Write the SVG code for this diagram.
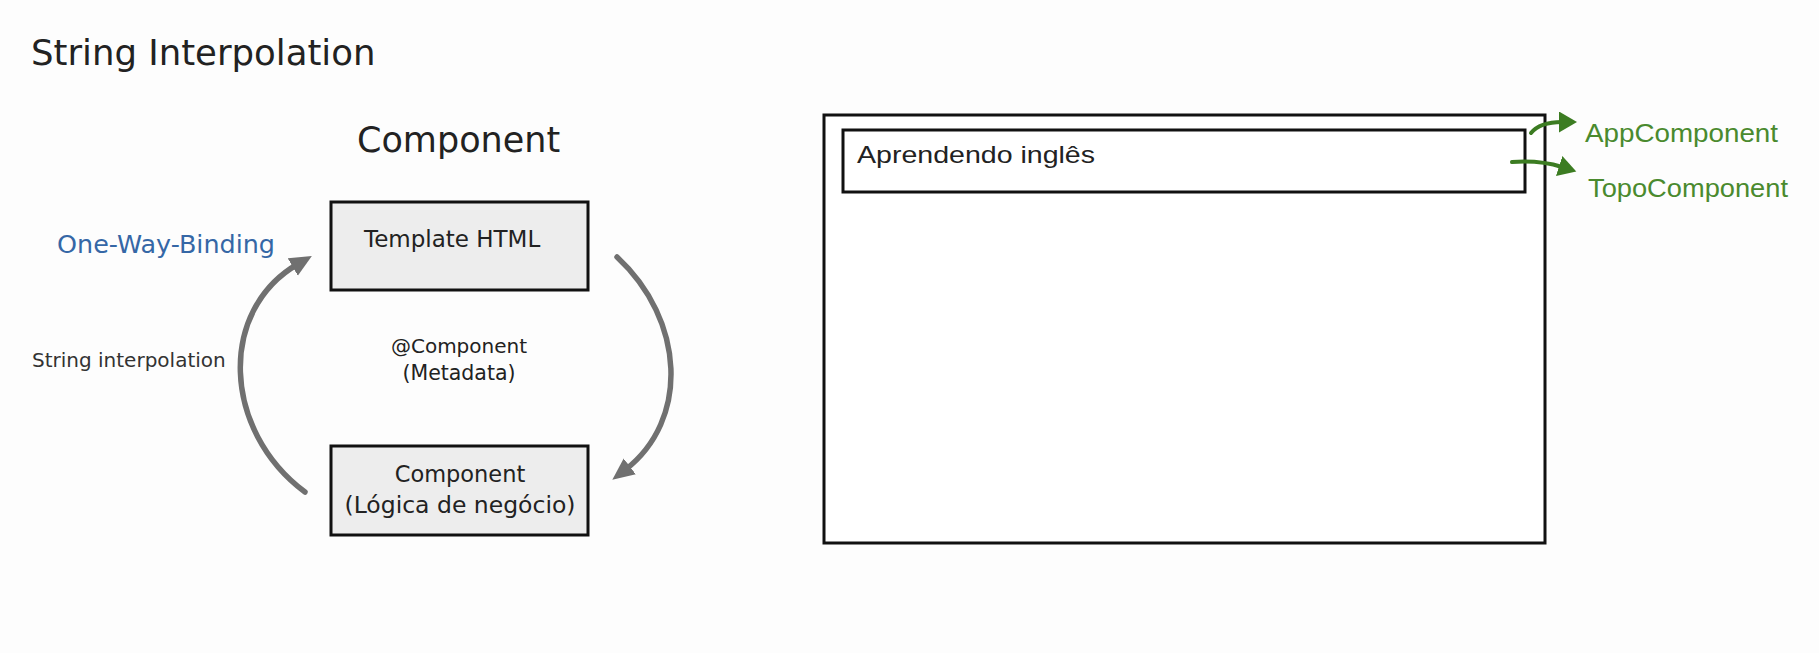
<svg xmlns="http://www.w3.org/2000/svg" width="1819" height="653" viewBox="0 0 1819 653">
  <style>
    .t { font-family: "DejaVu Sans", "Liberation Sans", sans-serif; fill: #222; }
    .r { font-family: "Liberation Sans", Arial, sans-serif; }
    .box { fill: #ededed; stroke: #111; stroke-width: 3; }
    .frame { fill: #fff; stroke: #111; stroke-width: 3; }
    .arc { fill: none; stroke: #707070; stroke-width: 5.5; stroke-linecap: round; }
    .garc { fill: none; stroke: #3c7c22; stroke-width: 4; stroke-linecap: round; }
    .green { fill: #4a8a2e; }
  </style>
  <defs>
    <marker id="grayHead" markerUnits="userSpaceOnUse" markerWidth="24" markerHeight="22" refX="6" refY="10" orient="auto">
      <path d="M0,0 L22,10 L0,20 z" fill="#707070"/>
    </marker>
    <marker id="greenHead" markerUnits="userSpaceOnUse" markerWidth="20" markerHeight="22" refX="3" refY="10.5" orient="auto">
      <path d="M0,0 L18,10.5 L0,21 z" fill="#3c7c22"/>
    </marker>
  </defs>
  <rect x="0" y="0" width="1819" height="653" fill="#fdfdfd"/>

  <g id="title">
    <text class="t" x="31" y="65" font-size="35.5">String Interpolation</text>
  </g>
  <g id="component-heading">
    <text class="t" x="357" y="152" font-size="35">Component</text>
  </g>

  <g id="template-html">
    <rect class="box" x="331" y="202" width="257" height="88"/>
    <text class="t" x="364" y="247" font-size="23" fill="#2a2a2a">Template HTML</text>
  </g>

  <g id="component-logic">
    <rect class="box" x="331" y="446" width="257" height="89"/>
    <text class="t" x="460" y="482" font-size="22.5" text-anchor="middle">Component</text>
    <text class="t" x="460" y="513" font-size="23.5" text-anchor="middle">(Lógica de negócio)</text>
  </g>

  <g id="metadata-label">
    <text class="t" x="459" y="353" font-size="20" text-anchor="middle">@Component</text>
    <text class="t" x="459" y="380" font-size="20.5" text-anchor="middle">(Metadata)</text>
  </g>

  <g id="one-way-binding-label">
    <text class="t" x="57" y="253" font-size="24" textLength="218" lengthAdjust="spacingAndGlyphs" style="fill:#3567a6">One-Way-Binding</text>
  </g>
  <g id="string-interpolation-label">
    <text class="t" x="32" y="367" font-size="20" style="fill:#333">String interpolation</text>
  </g>

  <g id="app-frame">
    <rect class="frame" x="824" y="115" width="721" height="428"/>
  </g>
  <g id="topo-frame">
    <rect class="frame" x="843" y="130" width="682" height="62"/>
    <text class="r" x="857" y="163" font-size="24" fill="#222" textLength="238" lengthAdjust="spacingAndGlyphs">Aprendendo inglês</text>
  </g>

  <g id="app-component-label">
    <text class="r green" x="1585" y="142" font-size="25" textLength="193" lengthAdjust="spacingAndGlyphs">AppComponent</text>
  </g>
  <g id="topo-component-label">
    <text class="r green" x="1588" y="197" font-size="25" textLength="200" lengthAdjust="spacingAndGlyphs">TopoComponent</text>
  </g>

  <g id="connectors">
    <path class="arc" d="M305 492 C222 430, 218 310, 298 264" marker-end="url(#grayHead)"/>
    <path class="arc" d="M617 257 C685 320, 690 420, 625 470" marker-end="url(#grayHead)"/>
    <path class="garc" d="M1531 133 Q1540 122 1562 122" marker-end="url(#greenHead)"/>
    <path class="garc" d="M1512 162 Q1540 160 1562 167" marker-end="url(#greenHead)"/>
  </g>
</svg>
